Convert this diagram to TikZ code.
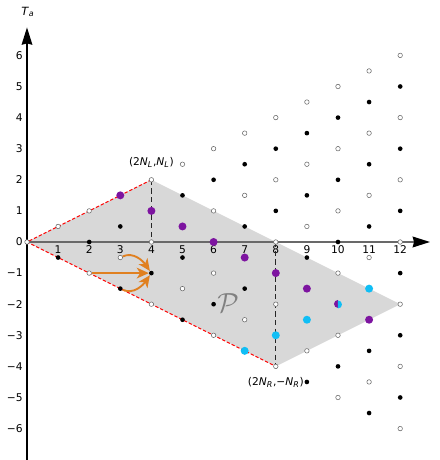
\documentclass[tikz,border=0pt]{standalone}
\usepackage{fontspec}
\setmainfont{DejaVu Sans}
\usepackage{xcolor}
\usetikzlibrary{arrows.meta, positioning}

\definecolor{regiongray}{RGB}{216,216,216}
\definecolor{dotpurple}{RGB}{125,20,160}
\definecolor{dotcyan}{RGB}{16,190,245}
\definecolor{arroworange}{RGB}{224,128,32}
\definecolor{axisgray}{RGB}{105,105,105}

\begin{document}
\begin{tikzpicture}[
    x=0.82cm, y=0.82cm,
    full/.style={circle, fill=black, inner sep=0pt, minimum size=3.5pt},
    hollow/.style={circle, draw=black!60, fill=white, line width=0.4pt, inner sep=0pt, minimum size=3.4pt},
    bigdot/.style={circle, inner sep=0pt, minimum size=6pt},
    ticklabel/.style={font=\fontsize{8}{9.5}\selectfont, inner sep=0pt},
    arrow/.style={-{Stealth[length=9pt, width=8pt, inset=2.5pt]}, draw=arroworange, line width=1.4pt},
    axis/.style={-{Stealth[length=13pt, width=8pt, inset=1pt, color=black]}}
]
    \useasboundingbox (-0.868,-7.010) rectangle (13.248,7.781);

    \coordinate (o) at (0,0);
    \coordinate (nl) at (4,2);
    \coordinate (nr) at (8,-4);
    \coordinate (tip) at (12,-2);
    \coordinate (nlfoot) at (4,0);
    \coordinate (nrfoot) at (8,0);
    \coordinate (xend) at (12.96,0);
    \coordinate (ybot) at (0,-7.05);
    \coordinate (ytop) at (0,6.9);

    % region P
    \fill[regiongray] (o) -- (nl) -- (tip) -- (nr) -- cycle;
    \draw[red, line width=0.7pt, dash pattern=on 2.5pt off 1.5pt] (nl) -- (o) -- (nr);

    % axes
    \draw[axis, axisgray, line width=1.5pt] (o) -- (xend);
    \draw[axis, black, line width=1.1pt] (ybot) -- (ytop);
    \node[ticklabel, font=\fontsize{8.5}{10}\selectfont] (talabel) at (0.03,7.4) {\textit{T}\textsubscript{\textit{a}}};

    \foreach \x in {1,...,12}
        \node[ticklabel, anchor=north] (xl\x) at (\x,-0.1) {\x};
    \foreach \y in {0,...,6}
        \node[ticklabel, anchor=east] (yl\y) at (-0.13,\y) {\y};
    \foreach \y in {1,...,6}
        \node[ticklabel, anchor=east] (ym\y) at (-0.13,-\y) {−\y};

    \draw[black!85, line width=0.9pt, dash pattern=on 4pt off 2.5pt] (nl) -- (nlfoot);
    \draw[black!85, line width=0.9pt, dash pattern=on 4pt off 2.5pt] (nrfoot) -- (nr);

    % lattice
    \foreach \x in {0,...,12} {
        \foreach \k in {0,...,\x} {
            \pgfmathtruncatemacro{\parity}{mod(\k,2)}
            \ifnum\parity=0
                \node[hollow] (p\x-\k) at (\x,\x/2-\k) {};
            \else
                \node[full] (p\x-\k) at (\x,\x/2-\k) {};
            \fi
        }
    }

    \foreach \x in {3,...,9,11} {
        \pgfmathtruncatemacro{\kk}{\x-3}
        \node[bigdot, fill=dotpurple] (q\x) at (p\x-\kk) {};
    }
    \foreach \x in {7,8,9,11}
        \node[bigdot, fill=dotcyan] (c\x) at (p\x-7) {};
    \node[bigdot] (h10) at (p10-7) {};
    \fill[dotpurple] (h10.north) arc (90:270:3pt) -- cycle;
    \fill[dotcyan] (h10.south) arc (-90:90:3pt) -- cycle;

    \node[ticklabel] (nllabel) at (4,2.55) {(2\textit{N}\textsubscript{\textit{L}},\textit{N}\textsubscript{\textit{L}})};
    \node[ticklabel] (nrlabel) at (8,-4.53) {(2\textit{N}\textsubscript{\textit{R}},−\textit{N}\textsubscript{\textit{R}})};
    \node[text=gray] (pname) at (6.47,-1.95) {\fontsize{20}{22}\selectfont$\mathcal{P}$};

    \draw[arrow] (p2-2) -- (p4-3);
    \draw[arrow] (p3-2) to[out=25, in=125] (p4-3);
    \draw[arrow] (p3-3) to[out=-25, in=-125] (p4-3);
\end{tikzpicture}
\end{document}
